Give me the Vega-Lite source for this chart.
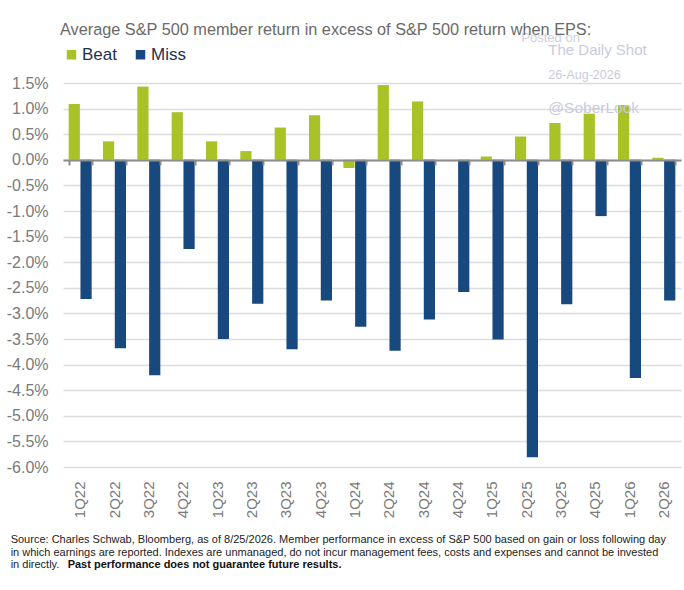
{
  "$schema": "https://vega.github.io/schema/vega-lite/v6.json",
  "width": 618,
  "height": 384,
  "autosize": {"type": "none"},
  "padding": {"left": 63, "top": 83, "right": 3, "bottom": 123},
  "background": "white",
  "config": {
    "view": {"stroke": null},
    "font": "Liberation Sans, Arial, sans-serif"
  },
  "title": {
    "text": "Average S&P 500 member return in excess of S&P 500 return when EPS:",
    "anchor": "start",
    "frame": "group",
    "fontSize": 16.3,
    "fontWeight": "normal",
    "color": "#6a6a6a",
    "offset": -6,
    "dx": -3
  },
  "datasets": {
    "bars": [
      {"q": "1Q22", "series": "Beat", "value": 1.09}, {"q": "1Q22", "series": "Miss", "value": -2.72},
      {"q": "2Q22", "series": "Beat", "value": 0.36}, {"q": "2Q22", "series": "Miss", "value": -3.68},
      {"q": "3Q22", "series": "Beat", "value": 1.43}, {"q": "3Q22", "series": "Miss", "value": -4.21},
      {"q": "4Q22", "series": "Beat", "value": 0.93}, {"q": "4Q22", "series": "Miss", "value": -1.74},
      {"q": "1Q23", "series": "Beat", "value": 0.36}, {"q": "1Q23", "series": "Miss", "value": -3.50},
      {"q": "2Q23", "series": "Beat", "value": 0.17}, {"q": "2Q23", "series": "Miss", "value": -2.81},
      {"q": "3Q23", "series": "Beat", "value": 0.63}, {"q": "3Q23", "series": "Miss", "value": -3.70},
      {"q": "4Q23", "series": "Beat", "value": 0.87}, {"q": "4Q23", "series": "Miss", "value": -2.75},
      {"q": "1Q24", "series": "Beat", "value": -0.16}, {"q": "1Q24", "series": "Miss", "value": -3.26},
      {"q": "2Q24", "series": "Beat", "value": 1.46}, {"q": "2Q24", "series": "Miss", "value": -3.73},
      {"q": "3Q24", "series": "Beat", "value": 1.14}, {"q": "3Q24", "series": "Miss", "value": -3.12},
      {"q": "4Q24", "series": "Beat", "value": 0.0}, {"q": "4Q24", "series": "Miss", "value": -2.58},
      {"q": "1Q25", "series": "Beat", "value": 0.065}, {"q": "1Q25", "series": "Miss", "value": -3.51},
      {"q": "2Q25", "series": "Beat", "value": 0.455}, {"q": "2Q25", "series": "Miss", "value": -5.81},
      {"q": "3Q25", "series": "Beat", "value": 0.72}, {"q": "3Q25", "series": "Miss", "value": -2.82},
      {"q": "4Q25", "series": "Beat", "value": 0.90}, {"q": "4Q25", "series": "Miss", "value": -1.10},
      {"q": "1Q26", "series": "Beat", "value": 1.07}, {"q": "1Q26", "series": "Miss", "value": -4.26},
      {"q": "2Q26", "series": "Beat", "value": 0.04}, {"q": "2Q26", "series": "Miss", "value": -2.75}
    ]
  },
  "resolve": {"axis": {"x": "independent"}},
  "layer": [
    {
      "data": {"name": "bars"},
      "mark": {"type": "bar"},
      "encoding": {
        "x": {
          "field": "q", "type": "nominal",
          "scale": {"domain": ["1Q22","2Q22","3Q22","4Q22","1Q23","2Q23","3Q23","4Q23","1Q24","2Q24","3Q24","4Q24","1Q25","2Q25","3Q25","4Q25","1Q26","2Q26"], "paddingInner": 0.33, "paddingOuter": 0.165},
          "axis": {"title": null, "domain": false, "ticks": false, "grid": false, "labelAngle": -90, "labelFontSize": 15, "labelColor": "#7a7a7a", "labelPadding": 14}
        },
        "xOffset": {"field": "series", "type": "nominal", "scale": {"domain": ["Beat", "Miss"], "paddingInner": 0.05}},
        "y": {
          "field": "value", "type": "quantitative",
          "scale": {"domain": [-6, 1.5], "nice": false, "zero": false},
          "axis": {
            "title": null, "domain": false, "ticks": false,
            "values": [-6, -5.5, -5, -4.5, -4, -3.5, -3, -2.5, -2, -1.5, -1, -0.5, 0, 0.5, 1, 1.5],
            "tickCount": 16,
            "labelExpr": "replace(format(datum.value, '.1f'), '\u2212', '-') + '%'",
            "labelFontSize": 16, "labelColor": "#7a7a7a", "labelPadding": 15, "labelOverlap": false,
            "gridColor": "#dcdcdc", "gridWidth": 1.5
          }
        },
        "color": {
          "field": "series", "type": "nominal",
          "scale": {"domain": ["Beat", "Miss"], "range": ["#a9c228", "#17497e"]},
          "legend": {
            "title": null, "orient": "top", "direction": "horizontal", "padding": 0,
            "symbolType": "square", "symbolSize": 90, "symbolStrokeWidth": 0,
            "labelFontSize": 17, "labelColor": "#26304a", "columnPadding": 15,
            "offset": 20, "labelOffset": 2
          }
        }
      }
    },
    {
      "data": {"name": "bars"},
      "mark": {"type": "point", "opacity": 0},
      "encoding": {
        "x": {
          "field": "q", "type": "nominal",
          "scale": {"domain": ["1Q22","2Q22","3Q22","4Q22","1Q23","2Q23","3Q23","4Q23","1Q24","2Q24","3Q24","4Q24","1Q25","2Q25","3Q25","4Q25","1Q26","2Q26"]},
          "axis": {"title": null, "orient": "bottom", "offset": -307, "labels": false, "grid": false, "domain": true, "domainColor": "#8c8c8c", "domainWidth": 2, "ticks": true, "tickBand": "extent", "tickColor": "#8c8c8c", "tickWidth": 2, "tickSize": 5, "zindex": 1}
        },
        "y": {"datum": 0, "type": "quantitative", "scale": {"domain": [-6, 1.5], "nice": false, "zero": false}}
      }
    },
    {
      "data": {"values": [{"t": "Posted on"}]},
      "mark": {"type": "text", "align": "left", "baseline": "middle", "fontSize": 13, "color": "#cfd1e2", "dx": -28},
      "encoding": {
        "x": {"datum": "3Q25", "type": "nominal", "bandPosition": 0, "axis": null},
        "y": {"datum": 2.38, "type": "quantitative", "scale": {"domain": [-6, 1.5], "nice": false, "zero": false}},
        "text": {"field": "t"}
      }
    },
    {
      "data": {"values": [{"t": "The Daily Shot"}]},
      "mark": {"type": "text", "align": "left", "baseline": "middle", "fontSize": 15, "color": "#c9cbdd", "dx": -1},
      "encoding": {
        "x": {"datum": "3Q25", "type": "nominal", "bandPosition": 0, "axis": null},
        "y": {"datum": 2.15, "type": "quantitative", "scale": {"domain": [-6, 1.5], "nice": false, "zero": false}},
        "text": {"field": "t"}
      }
    },
    {
      "data": {"values": [{"t": "26-Aug-2026"}]},
      "mark": {"type": "text", "align": "left", "baseline": "middle", "fontSize": 12.5, "color": "#c9cbdd", "dx": -1},
      "encoding": {
        "x": {"datum": "3Q25", "type": "nominal", "bandPosition": 0, "axis": null},
        "y": {"datum": 1.66, "type": "quantitative", "scale": {"domain": [-6, 1.5], "nice": false, "zero": false}},
        "text": {"field": "t"}
      }
    },
    {
      "data": {"values": [{"t": "@SoberLook"}]},
      "mark": {"type": "text", "align": "left", "baseline": "middle", "fontSize": 15.5, "color": "#c9cbdd", "dx": -1},
      "encoding": {
        "x": {"datum": "3Q25", "type": "nominal", "bandPosition": 0, "axis": null},
        "y": {"datum": 1.02, "type": "quantitative", "scale": {"domain": [-6, 1.5], "nice": false, "zero": false}},
        "text": {"field": "t"}
      }
    },
    {
      "data": {"values": [{"t": "Source: Charles Schwab, Bloomberg, as of 8/25/2026. Member performance in excess of S&P 500 based on gain or loss following day"}]},
      "mark": {"type": "text", "align": "left", "baseline": "middle", "fontSize": 11, "color": "#222222", "dx": -58},
      "encoding": {
        "x": {"datum": "1Q22", "type": "nominal", "bandPosition": 0, "axis": null},
        "y": {"datum": -7.43, "type": "quantitative", "scale": {"domain": [-6, 1.5], "nice": false, "zero": false}},
        "text": {"field": "t"}
      }
    },
    {
      "data": {"values": [{"t": "in which earnings are reported. Indexes are unmanaged, do not incur management fees, costs and expenses and cannot be invested"}]},
      "mark": {"type": "text", "align": "left", "baseline": "middle", "fontSize": 11, "color": "#222222", "dx": -58},
      "encoding": {
        "x": {"datum": "1Q22", "type": "nominal", "bandPosition": 0, "axis": null},
        "y": {"datum": -7.67, "type": "quantitative", "scale": {"domain": [-6, 1.5], "nice": false, "zero": false}},
        "text": {"field": "t"}
      }
    },
    {
      "data": {"values": [{"t": "in directly."}]},
      "mark": {"type": "text", "align": "left", "baseline": "middle", "fontSize": 11, "color": "#222222", "dx": -58},
      "encoding": {
        "x": {"datum": "1Q22", "type": "nominal", "bandPosition": 0, "axis": null},
        "y": {"datum": -7.91, "type": "quantitative", "scale": {"domain": [-6, 1.5], "nice": false, "zero": false}},
        "text": {"field": "t"}
      }
    },
    {
      "data": {"values": [{"t": "Past performance does not guarantee future results."}]},
      "mark": {"type": "text", "align": "left", "baseline": "middle", "fontSize": 11, "fontWeight": "bold", "color": "#111111", "dx": -1},
      "encoding": {
        "x": {"datum": "1Q22", "type": "nominal", "bandPosition": 0, "axis": null},
        "y": {"datum": -7.91, "type": "quantitative", "scale": {"domain": [-6, 1.5], "nice": false, "zero": false}},
        "text": {"field": "t"}
      }
    }
  ]
}
